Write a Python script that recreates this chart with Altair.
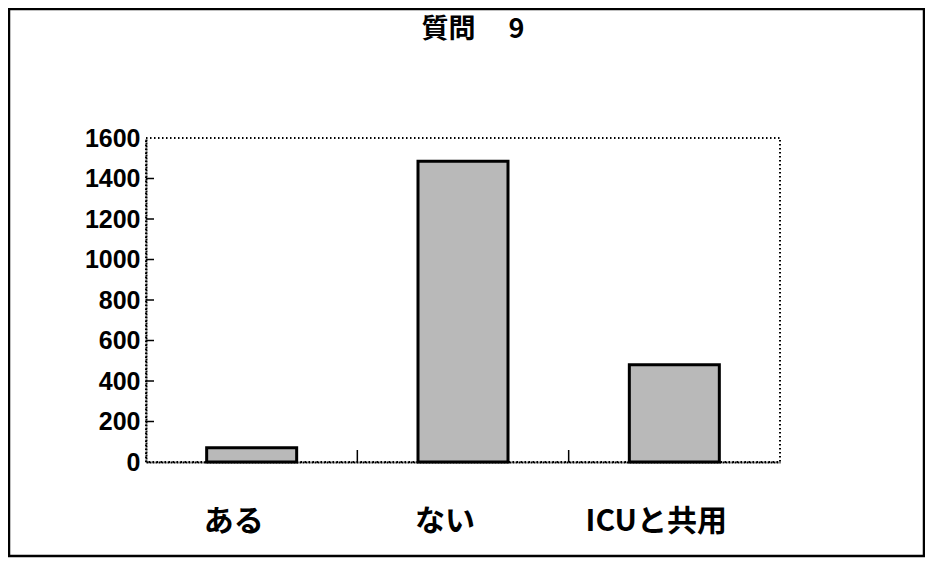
import altair as alt
import pandas as pd

categories = ["ある", "ない", "ICUと共用"]
counts = [70, 1485, 480]
y_ticks = [200, 400, 600, 800, 1000, 1200, 1400]
x_tick_cats = ["ない", "ICUと共用"]

W, H = 634, 324

df = pd.DataFrame({"cat": categories, "n": counts})
yt = pd.DataFrame({"v": y_ticks})
xt = pd.DataFrame({"cat": x_tick_cats})

xscale = alt.Scale(domain=categories, paddingInner=0, paddingOuter=0)
yscale = alt.Scale(domain=[0, 1600], nice=False)

jp = "Noto Sans CJK JP"
num = "Liberation Sans"

bars = alt.Chart(df).mark_bar(size=90, fill="#b9b9b9", stroke="black", strokeWidth=3).encode(
    x=alt.X("cat:N", scale=xscale, sort=categories,
            axis=alt.Axis(title=None, labelAngle=0, ticks=False, labelPadding=44,
                          labelOffset=-18,
                          labelFont=jp, labelFontSize=30, labelFontWeight="bold",
                          labelColor="black", domainColor="black", domainWidth=2,
                          domainDash=[2, 1])),
    y=alt.Y("n:Q", scale=yscale,
            axis=alt.Axis(title=None, values=[0, 200, 400, 600, 800, 1000, 1200, 1400, 1600],
                          format="d", ticks=False, labelPadding=6, grid=False,
                          labelFont=num, labelFontSize=25, labelFontWeight="bold",
                          labelColor="black", domainColor="black", domainWidth=2,
                          domainDash=[2, 1])),
)

yticks = alt.Chart(yt).mark_rule(color="black", strokeWidth=1.5).encode(
    y=alt.Y("v:Q", scale=yscale),
    x=alt.value(0),
    x2=alt.value(8),
)

xticks = alt.Chart(xt).mark_rule(color="black", strokeWidth=1.5).encode(
    x=alt.X("cat:N", scale=xscale, sort=categories, bandPosition=0),
    y=alt.value(H),
    y2=alt.value(H - 12),
)

frame = alt.Chart(df).mark_rect(fill=None, stroke="black", strokeWidth=2.5).encode(
    x=alt.value(-137), x2=alt.value(778), y=alt.value(-129), y2=alt.value(418)
).transform_filter(alt.datum.cat == "ある")

chart = alt.layer(frame, bars, yticks, xticks).properties(
    width=W, height=H,
    background="white",
    title=alt.TitleParams("質問　 9", font=jp, fontSize=27, fontWeight="bold",
                          anchor="middle", offset=-36, dx=10, color="black"),
    autosize=alt.AutoSizeParams(type="none"),
    padding={"left": 138, "top": 130, "right": 145, "bottom": 96},
).configure_view(
    stroke="black", strokeDash=[1.5, 2.5], strokeWidth=2
)

chart.save("out.html", embed_options={"renderer": "svg", "actions": False})
